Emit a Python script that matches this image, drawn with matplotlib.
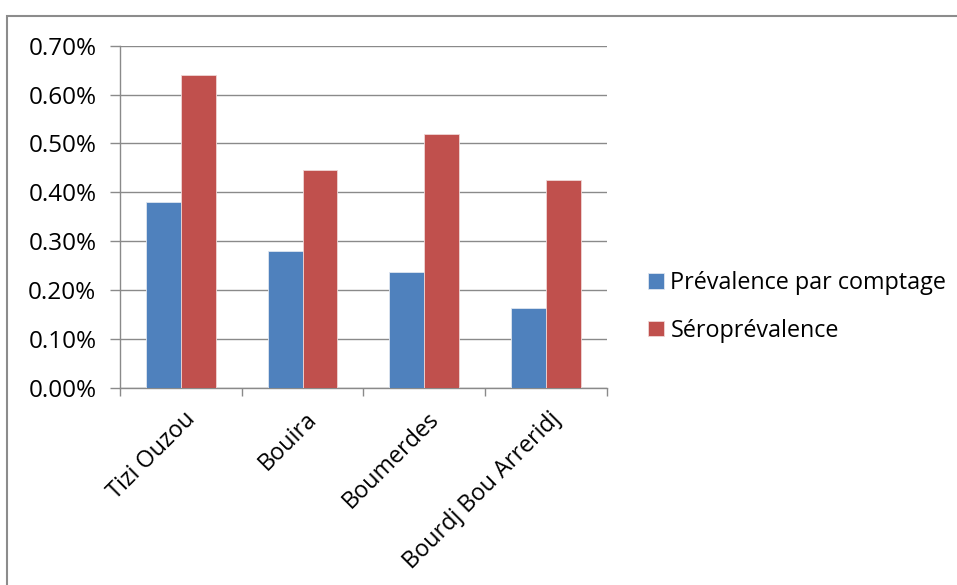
import matplotlib
matplotlib.use("Agg")
import matplotlib.pyplot as plt
from matplotlib.patches import Rectangle
from matplotlib.ticker import FuncFormatter, FixedLocator
import numpy as np

regions = ["Tizi Ouzou", "Bouira", "Boumerdes", "Bourdj Bou Arreridj"]
prevalence_comptage = [0.38, 0.28, 0.237, 0.164]   # %
seroprevalence = [0.64, 0.445, 0.519, 0.425]       # %
series_labels = ["Prévalence par comptage", "Séroprévalence"]
colors = ["#4F81BD", "#C0504D"]

plt.rcParams["font.family"] = ["Open Sans", "DejaVu Sans"]

fig = plt.figure(figsize=(9.57, 5.85), dpi=100)
W, H = 957, 585

# outer chart frame
fig.patches.append(Rectangle((7 / W, -0.2), 1.2, 1.2 - 15.5 / H, transform=fig.transFigure,
                             fill=False, edgecolor="#8c8c8c", linewidth=1.5))

ax = fig.add_axes([120 / W, 1 - 387.7 / H, (606.7 - 120) / W, (387.7 - 45.7) / H])

n = len(regions)
x = np.arange(n)
bw = 1 / 3.5
ax.bar(x - bw / 2, prevalence_comptage, bw, color=colors[0], edgecolor="#dfe6f0",
       linewidth=0.6, label=series_labels[0], zorder=3)
ax.bar(x + bw / 2, seroprevalence, bw, color=colors[1], edgecolor="#efd6d6",
       linewidth=0.6, label=series_labels[1], zorder=3)

ax.set_xlim(-0.5, n - 0.5)
ax.set_ylim(0, 0.70)
ax.set_yticks(np.arange(0, 0.71, 0.10))
ax.yaxis.set_major_formatter(FuncFormatter(lambda v, p: f"{v:.2f}%"))
ax.yaxis.grid(True, color="#8a8a8a", linewidth=1.0, zorder=0)

ax.xaxis.set_major_locator(FixedLocator(np.arange(-0.5, n, 1.0)))
ax.xaxis.set_major_formatter(FuncFormatter(lambda v, p: ""))
ax.tick_params(axis="x", direction="out", length=6, color="#8a8a8a", width=1)
ax.tick_params(axis="y", direction="out", length=7, color="#8a8a8a", width=1,
               labelsize=17.5, pad=10, labelcolor="#000000")

for s in ["top", "right"]:
    ax.spines[s].set_visible(False)
for s in ["left", "bottom"]:
    ax.spines[s].set_color("#8a8a8a")
    ax.spines[s].set_linewidth(1.0)

for i, name in enumerate(regions):
    ax.annotate(name, xy=(i, 0), xycoords="data", xytext=(8, -20),
                textcoords="offset points", rotation=45, rotation_mode="anchor",
                ha="right", va="center", fontsize=16.8)

fig.legend(loc="upper left", bbox_to_anchor=(639 / W, 1 - 262 / H), frameon=False,
           fontsize=16.8, handlelength=0.65, handleheight=0.65, handletextpad=0.3,
           labelspacing=1.0, borderaxespad=0)

fig.savefig("out.png", dpi=100)
